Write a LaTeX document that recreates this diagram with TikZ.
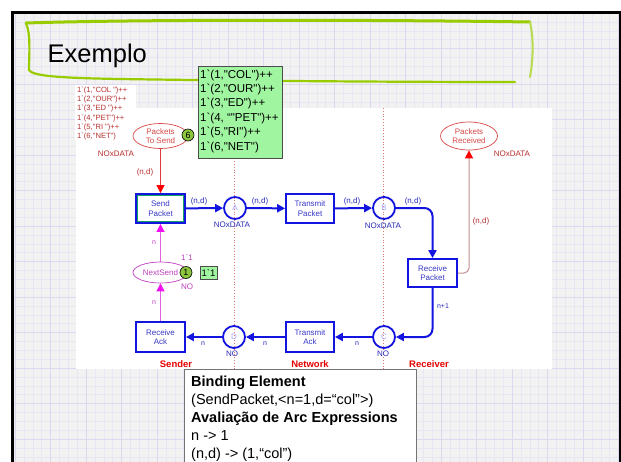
\documentclass[tikz,border=0pt]{standalone}
\usepackage{fontspec}
\setmainfont{Liberation Sans}[Ligatures=TeXOff]
\usetikzlibrary{shapes.geometric,arrows.meta,calc}
\definecolor{pblue}{HTML}{1414E0}
\definecolor{tblue}{HTML}{3838C8}
\definecolor{lblue}{HTML}{2A2AB8}
\definecolor{mred}{HTML}{B83030}
\definecolor{ellred}{HTML}{D84848}
\definecolor{arcred}{HTML}{E03838}
\definecolor{rose}{HTML}{C49090}
\definecolor{mline}{HTML}{E060E0}
\definecolor{mtip}{HTML}{F010F0}
\definecolor{mtext}{HTML}{C040C0}
\definecolor{tokgreen}{HTML}{8CC63F}
\definecolor{mgreen}{HTML}{A0F5A0}
\definecolor{bggray}{HTML}{F2F2F2}
\definecolor{gminor}{HTML}{E8E6F3}
\definecolor{gmajor}{HTML}{DCD8EF}
\definecolor{brush}{HTML}{99CC00}
\definecolor{dotred}{HTML}{E07878}
\definecolor{selgreen}{HTML}{10A060}
\tikzset{
  trans/.style={draw=pblue, line width=1.8pt, minimum width=49pt, minimum height=29pt,
    inner sep=0pt, align=center, text=tblue, font=\fontsize{8}{9.3}\selectfont},
  place/.style={circle, draw=pblue, line width=1.8pt, minimum size=22pt, inner sep=0pt,
    text=blue!35!white, font=\fontsize{8}{9}\selectfont},
  redell/.style={ellipse, draw=ellred, line width=0.7pt, inner sep=0pt, align=center,
    text=ellred, font=\fontsize{8}{9.3}\selectfont},
  lbl/.style={inner sep=0pt, font=\fontsize{8}{9}\selectfont},
  barc/.style={draw=pblue, line width=2pt, -{Triangle[length=8pt,width=8pt]}},
  redarc/.style={draw=arcred, line width=0.8pt, -{Triangle[length=8pt,width=8pt,color=red]}},
  rosearc/.style={draw=rose, line width=1pt, -{Triangle[length=8pt,width=8pt,color=red]}},
  marc/.style={draw=mline, line width=0.8pt, -{Triangle[length=8pt,width=8pt,color=mtip]}},
  token/.style={circle, fill=tokgreen, draw=black, line width=0.6pt, minimum size=12pt,
    inner sep=0pt, font=\fontsize{9}{9}\selectfont},
  mbox/.style={draw=black!70, fill=mgreen, line width=0.8pt, inner sep=0pt},
  sidelbl/.style={inner sep=0pt, text=red!90!black, font=\fontsize{9.5}{10}\selectfont\bfseries},
  dotline/.style={draw=dotred, line width=0.8pt, dotted},
}
\begin{document}
\begin{tikzpicture}[x=1pt,y=-1pt]
\useasboundingbox (0,0) rectangle (621,461);
\begin{scope}
\clip (0,0) rectangle (621,461);
\fill[white] (0,0) rectangle (621,461);
\fill[bggray] (12,12) rectangle (621,470);
% grid
\foreach \i [evaluate=\i as \xx using 15+\i*8.875] in {0,...,68}
  {\draw[gminor, line width=0.5pt] (\xx,12) -- (\xx,470);}
\foreach \i [evaluate=\i as \yy using 13+\i*8.875] in {0,...,52}
  {\draw[gminor, line width=0.5pt] (12,\yy) -- (621,\yy);}
\foreach \i [evaluate=\i as \xx using 15+\i*35.5] in {0,...,17}
  {\draw[gmajor, line width=0.8pt] (\xx,12) -- (\xx,470);}
\foreach \i [evaluate=\i as \yy using 13+\i*35.5] in {0,...,13}
  {\draw[gmajor, line width=0.8pt] (12,\yy) -- (621,\yy);}
% frame
\draw[line width=3pt, black] (12,470) -- (12,12) -- (620,12) -- (620,470);
% title brush
\draw[brush, line width=3pt, line cap=round] (26,23) .. controls (150,19) and (400,20) .. (530,22);
\draw[brush, line width=2.2pt, line cap=round] (26,23) .. controls (31,35) and (29,55) .. (29,70)
   .. controls (32,76) and (60,78) .. (120,79) .. controls (250,81) and (400,82) .. (515,82);
\draw[brush!70!white, line width=2pt, line cap=round] (530,22) .. controls (534,40) and (533,60) .. (530,77);
\node[anchor=base west, inner sep=0pt, font=\fontsize{25.5}{30}\selectfont] (title) at (47.5,62) {Exemplo};
% white areas
\fill[white] (76,108) rectangle (552,369);
\fill[white] (75,85) rectangle (136,140);
% dotted boundaries
\draw[dotline] (234,108) -- (234,369);
\draw[dotline] (383,108) -- (383,369);
% initial marking text
\node[anchor=north west, inner sep=0pt, align=left, text=mred, font=\fontsize{7.6}{9.1}\selectfont]
  (init) at (77,87) {1`(1,"COL ")++\\1`(2,"OUR")++\\1`(3,"ED ")++\\1`(4,"PET")++\\1`(5,"RI ")++\\1`(6,"NET")};
% current marking box
\node[mbox, anchor=north west, minimum width=84pt, minimum height=92pt] (mark) at (198,66) {};
\node[anchor=north west, inner sep=0pt, align=left, font=\fontsize{11.5}{14.4}\selectfont]
  (marktext) at (200,69.5) {1`(1,"COL")++\\1`(2,"OUR")++\\1`(3,"ED")++\\1`(4, “"PET")++\\1`(5,"RI")++\\1`(6,"NET")};
% places
\node[redell, minimum width=55pt, minimum height=25pt] (pts) at (160.5,136) {Packets\\To Send};
\node[token] (t6) at (188,135) {6};
\node[lbl, text=mred] (ptsl) at (116,154) {NOxDATA};
\node[redell, minimum width=57pt, minimum height=28pt] (pr) at (469,136) {Packets\\Received};
\node[lbl, text=mred] (prl) at (512,154) {NOxDATA};
\node[place] (A) at (235,208) {A};
\node[lbl, text=lblue] (Al) at (232,225) {NOxDATA};
\node[place] (B) at (384,208) {B};
\node[lbl, text=lblue] (Bl) at (383,226) {NOxDATA};
\node[place] (C) at (384,337) {C};
\node[lbl, text=lblue] (Cl) at (383,354) {NO};
\node[place] (D) at (234,337) {D};
\node[lbl, text=lblue] (Dl) at (232,354) {NO};
\node[ellipse, draw=mtext, line width=0.7pt, inner sep=0pt, minimum width=55pt, minimum height=21pt,
  text=mtext, font=\fontsize{8}{9}\selectfont] (ns) at (160.5,272.5) {NextSend};
\node[token] (t1) at (186,272.5) {1};
\node[lbl, text=mtext] (nsi) at (187,258) {1`1};
\node[lbl, text=mtext] (nsl) at (187,287) {NO};
\node[mbox, minimum width=17pt, minimum height=12.5pt, font=\fontsize{9.5}{10}\selectfont] (nsm) at (208.5,273) {1`1};
% transitions
\node[trans] (sp) at (160.5,208.5) {Send\\Packet};
\draw[selgreen, line width=1.4pt] ($(sp.north west)+(2.3,2.3)$) rectangle ($(sp.south east)+(-2.3,-2.3)$);
\node[trans, minimum width=48pt] (tp) at (310,208.5) {Transmit\\Packet};
\node[trans, minimum height=28pt] (rp) at (432.5,273) {Receive\\Packet};
\node[trans, minimum width=48pt, minimum height=30pt] (ta) at (310,337) {Transmit\\Ack};
\node[trans, minimum height=30pt] (ra) at (160.5,337) {Receive\\Ack};
% arcs
\draw[redarc] (pts) -- (sp);
\node[lbl, text=mred] (l1) at (145,172) {(n,d)};
\draw[barc] (sp) -- (A);
\node[lbl, text=lblue] (l2) at (199,201) {(n,d)};
\draw[barc] (A) -- (tp);
\node[lbl, text=lblue] (l3) at (260,201) {(n,d)};
\draw[barc] (tp) -- (B);
\node[lbl, text=lblue] (l4) at (352,201) {(n,d)};
\draw[barc, rounded corners=8pt] (B.east) -| (rp.north);
\node[lbl, text=lblue] (l5) at (413,201) {(n,d)};
\draw[rosearc, rounded corners=5pt] (rp.east) -| (pr.south);
\node[lbl, text=mred] (l6) at (481,221) {(n,d)};
\draw[barc, rounded corners=8pt] (rp.south) |- (C.east);
\node[lbl, text=lblue, font=\fontsize{7}{8}\selectfont] (l7) at (443,306) {n+1};
\draw[barc] (C) -- (ta);
\node[lbl, text=lblue, font=\fontsize{7}{8}\selectfont] (l8) at (357,344) {n};
\draw[barc] (ta) -- (D);
\node[lbl, text=lblue, font=\fontsize{7}{8}\selectfont] (l9) at (265,344) {n};
\draw[barc] (D) -- (ra);
\node[lbl, text=lblue, font=\fontsize{7}{8}\selectfont] (l10) at (203,344) {n};
\draw[marc] (ra) -- (ns);
\node[lbl, text=mtext, font=\fontsize{7}{8}\selectfont] (l11) at (154,303) {n};
\draw[marc] (ns) -- (sp);
\node[lbl, text=mtext, font=\fontsize{7}{8}\selectfont] (l12) at (154,243) {n};
% side labels
\node[sidelbl] (sender) at (176,364) {Sender};
\node[sidelbl] (network) at (310,364) {Network};
\node[sidelbl] (receiver) at (429,364) {Receiver};
% binding box
\node[draw=black!55, line width=1.2pt, fill=white, anchor=north west, minimum width=232pt,
  minimum height=110pt, inner sep=0pt] (bind) at (184,369) {};
\node[anchor=north west, inner sep=0pt, align=left, font=\fontsize{14.5}{18}\selectfont]
  (bindtext) at (191,375.5) {\textbf{Binding Element}\\(SendPacket,<n=1,d=“col”>)\\\textbf{Avaliação de Arc Expressions}\\n -> 1\\(n,d) -> (1,“col”)};
\end{scope}
\end{tikzpicture}
\end{document}
